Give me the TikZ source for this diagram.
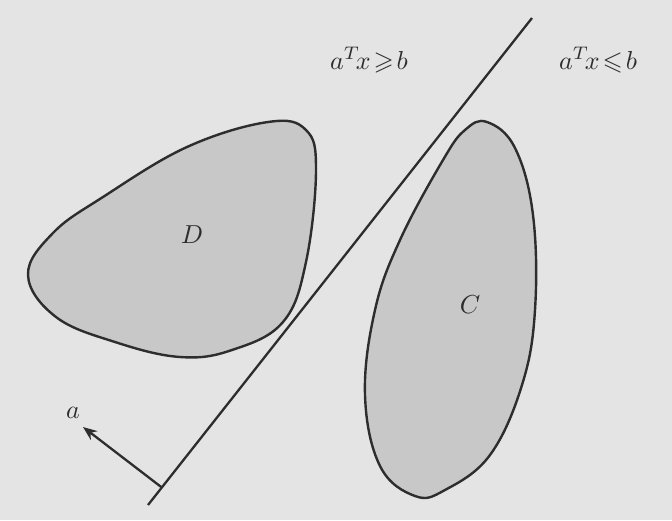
\documentclass[tikz,border=0pt]{standalone}
\usepackage{amssymb}
\usetikzlibrary{arrows.meta,calc}
\definecolor{paper}{RGB}{228,228,228}
\definecolor{blob}{RGB}{200,200,200}
\definecolor{ink}{RGB}{45,45,45}
\tikzset{
  setshape/.style={draw=ink, fill=blob, line width=2.4pt},
  lbl/.style={text=ink, scale=2.6, inner sep=0pt},
  sepline/.style={draw=ink, line width=2.3pt},
  normalvec/.style={draw=ink, line width=2.3pt, -{Stealth[length=14pt,width=11pt]}}
}
\begin{document}
\begin{tikzpicture}[x=1pt,y=-1pt]
\fill[paper] (0,0) rectangle (672,520);
\useasboundingbox (0,0) rectangle (672,520);
% set D
\draw[setshape] plot[smooth cycle, tension=0.65] coordinates {
  (28,275) (53,233) (103,197) (187,147) (268,122) (306,130) (316,170)
  (306,262) (283,322) (232,350) (180,357) (115,342) (56,317) };
% set C
\draw[setshape] plot[smooth cycle, tension=0.65] coordinates {
  (487,122) (515,148) (533,215) (535,310) (522,385) (490,455) (445,490)
  (415,496) (380,466) (365,395) (375,310) (400,240) (443,160) (465,130) };
\node[lbl] (D) at (192,235) {$D$};
\node[lbl] (C) at (470,305) {$C$};
% separating line
\coordinate (L1) at (148,505);
\coordinate (L2) at (532,18);
\draw[sepline] (L1) -- (L2);
\coordinate (base) at ($(L1)!0.036!(L2)$);
\coordinate (tip) at (83,427);
\draw[normalvec] (base) -- (tip);
\node[lbl] (a) at (73,413) {$a$};
\node[lbl] (ge) at (369,60) {$a^T\!x\!\geqslant\! b$};
\node[lbl] (le) at (598,60) {$a^T\!x\!\leqslant\! b$};
\end{tikzpicture}
\end{document}
